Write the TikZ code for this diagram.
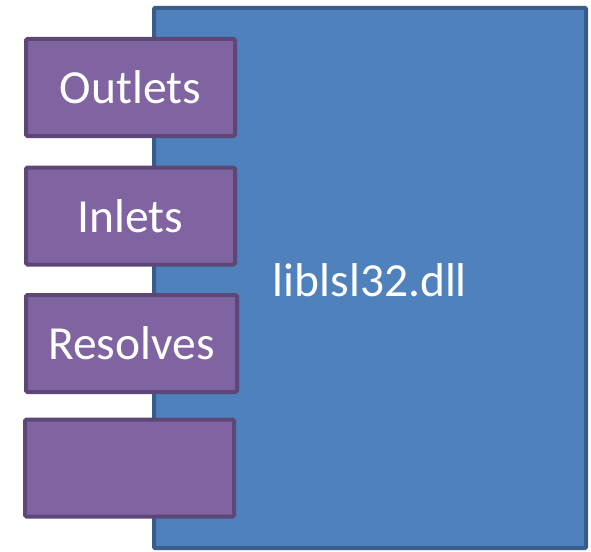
\documentclass[tikz,border=0pt]{standalone}
\usepackage{fontspec}
\setmainfont{Carlito}
\definecolor{dllfill}{HTML}{4F81BD}
\definecolor{dllline}{HTML}{385D8A}
\definecolor{boxfill}{HTML}{8064A2}
\definecolor{boxline}{HTML}{5C4776}
\begin{document}
\begin{tikzpicture}[x=1pt,y=-1pt,
  dllbox/.style={draw=dllline, fill=dllfill, line width=4pt, rounded corners=1pt, inner sep=0pt},
  partbox/.style={draw=boxline, fill=boxfill, line width=4pt, rounded corners=1.5pt,
    minimum width=209pt, minimum height=97pt, inner sep=0pt, text=white, font=\fontsize{47.5}{54}\selectfont},
  lbl/.style={text=white, font=\fontsize{47.5}{54}\selectfont, inner sep=0pt}]
\useasboundingbox (0,0) rectangle (591,551);
\node[dllbox, minimum width=432pt, minimum height=540pt] (dll) at (370,278) {};
\node[lbl, anchor=base] (name) at (370,296) {liblsl32.dll};
\node[partbox] (outlets) at (130.5,87.5) {Outlets};
\node[partbox] (inlets) at (130.5,216) {Inlets};
\node[partbox, minimum width=211pt] (resolves) at (131.5,343.5) {Resolves};
\node[partbox] (empty) at (129.5,468) {};
\end{tikzpicture}
\end{document}
